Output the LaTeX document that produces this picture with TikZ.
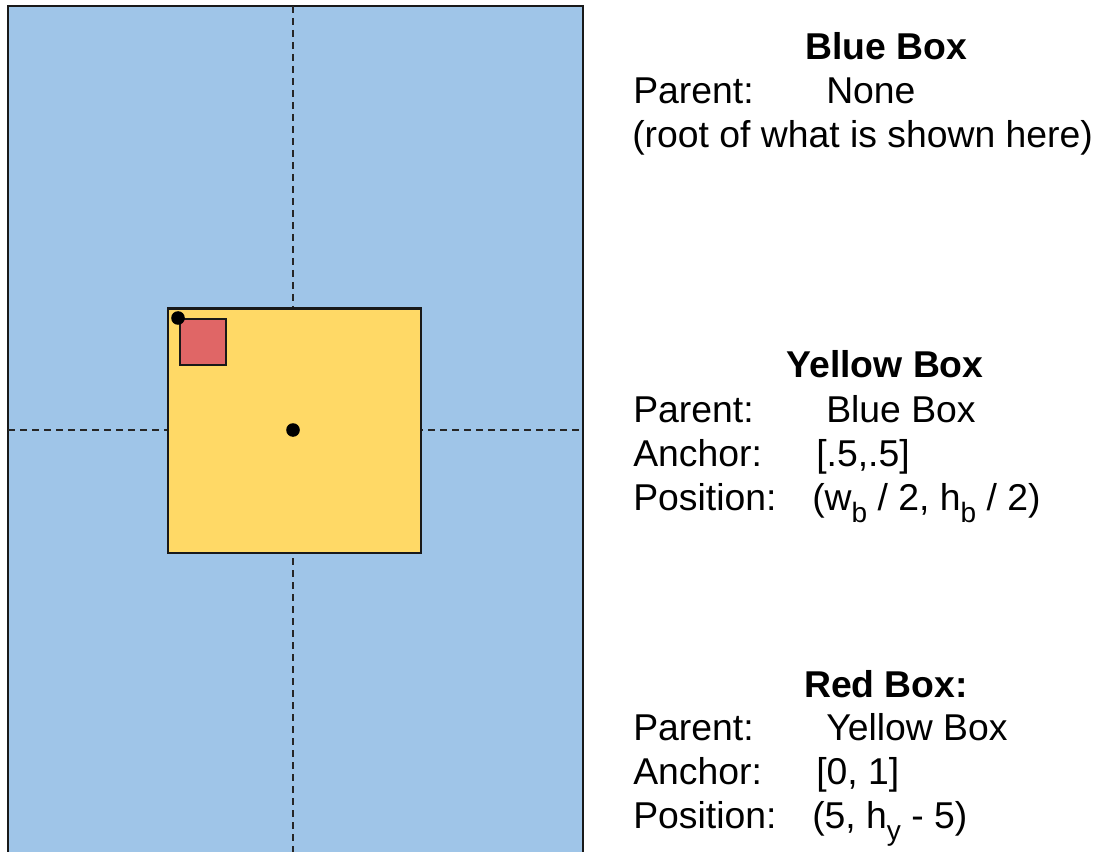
\documentclass[tikz,border=0pt]{standalone}
\usepackage{fontspec}
\setmainfont{Liberation Sans}
\definecolor{bluefill}{HTML}{9FC5E8}
\definecolor{yellowfill}{HTML}{FFD966}
\definecolor{redfill}{HTML}{E06666}
\newcommand{\sbs}[1]{\raisebox{-0.34em}{\fontsize{21}{21}\selectfont #1}}
\begin{document}
\begin{tikzpicture}[x=0.75pt,y=-0.75pt,
  boxline/.style={draw=black!90, line width=1.6pt},
  guide/.style={draw=black!85, line width=1.1pt, dash pattern=on 5.5pt off 3.5pt},
  dotmark/.style={fill=black},
  txt/.style={anchor=base west, inner sep=0pt, font=\fontsize{28}{33}\selectfont},
  ttl/.style={anchor=base, inner sep=0pt, font=\fontsize{28}{33}\selectfont\bfseries}]
\useasboundingbox (0,0) rectangle (1103,852);
\begin{scope}
\clip (0,0) rectangle (1103,852);
% blue box
\node[boxline, fill=bluefill, rectangle, inner sep=0pt, minimum width=575*0.75pt, minimum height=870*0.75pt, anchor=north west] (blue) at (7,5) {};
\end{scope}
% guides
\coordinate (vt) at (293,6);
\coordinate (vb) at (293,852);
\coordinate (hl) at (8,430);
\coordinate (hr) at (581,430);
\draw[guide] (vt) -- (vb);
\draw[guide] (hl) -- (hr);
% yellow box
\node[boxline, fill=yellowfill, rectangle, inner sep=0pt, minimum width=253*0.75pt, minimum height=244*0.75pt, anchor=north west] (yellow) at (166.5,307.5) {};
% red box
\node[boxline, fill=redfill, rectangle, inner sep=0pt, minimum width=46*0.75pt, minimum height=46*0.75pt, anchor=north west] (red) at (179,318) {};
% dots
\coordinate (rdot) at (178,318);
\coordinate (ydot) at (293,430);
\fill[dotmark] (rdot) circle[radius=5.1pt];
\fill[dotmark] (ydot) circle[radius=5.1pt];
% blue text
\node[ttl] (bt) at (886,60) {Blue Box};
\node[txt] (bp) at (633,104) {Parent:};
\node[txt] (bpv) at (826,104) {None};
\node[txt] (br) at (632,148) {(root of what is shown here)};
% yellow text
\node[ttl] (yt) at (885,378) {Yellow Box};
\node[txt] (yp) at (633,422) {Parent:};
\node[txt] (ypv) at (826,422) {Blue Box};
\node[txt] (ya) at (633,466) {Anchor:};
\node[txt] (yav) at (816,466) {[.5,.5]};
\node[txt] (ypo) at (633,510) {Position:};
\node[txt] (ypov) at (812,510) {(w\sbs{b} / 2, h\sbs{b} / 2)};
% red text
\node[ttl] (rt) at (886,697) {Red Box:};
\node[txt] (rp) at (633,740) {Parent:};
\node[txt] (rpv) at (826,740) {Yellow Box};
\node[txt] (ra) at (633,784) {Anchor:};
\node[txt] (rav) at (816,784) {[0, 1]};
\node[txt] (rpo) at (633,828) {Position:};
\node[txt] (rpov) at (812,828) {(5, h\sbs{y} - 5)};
\end{tikzpicture}
\end{document}
